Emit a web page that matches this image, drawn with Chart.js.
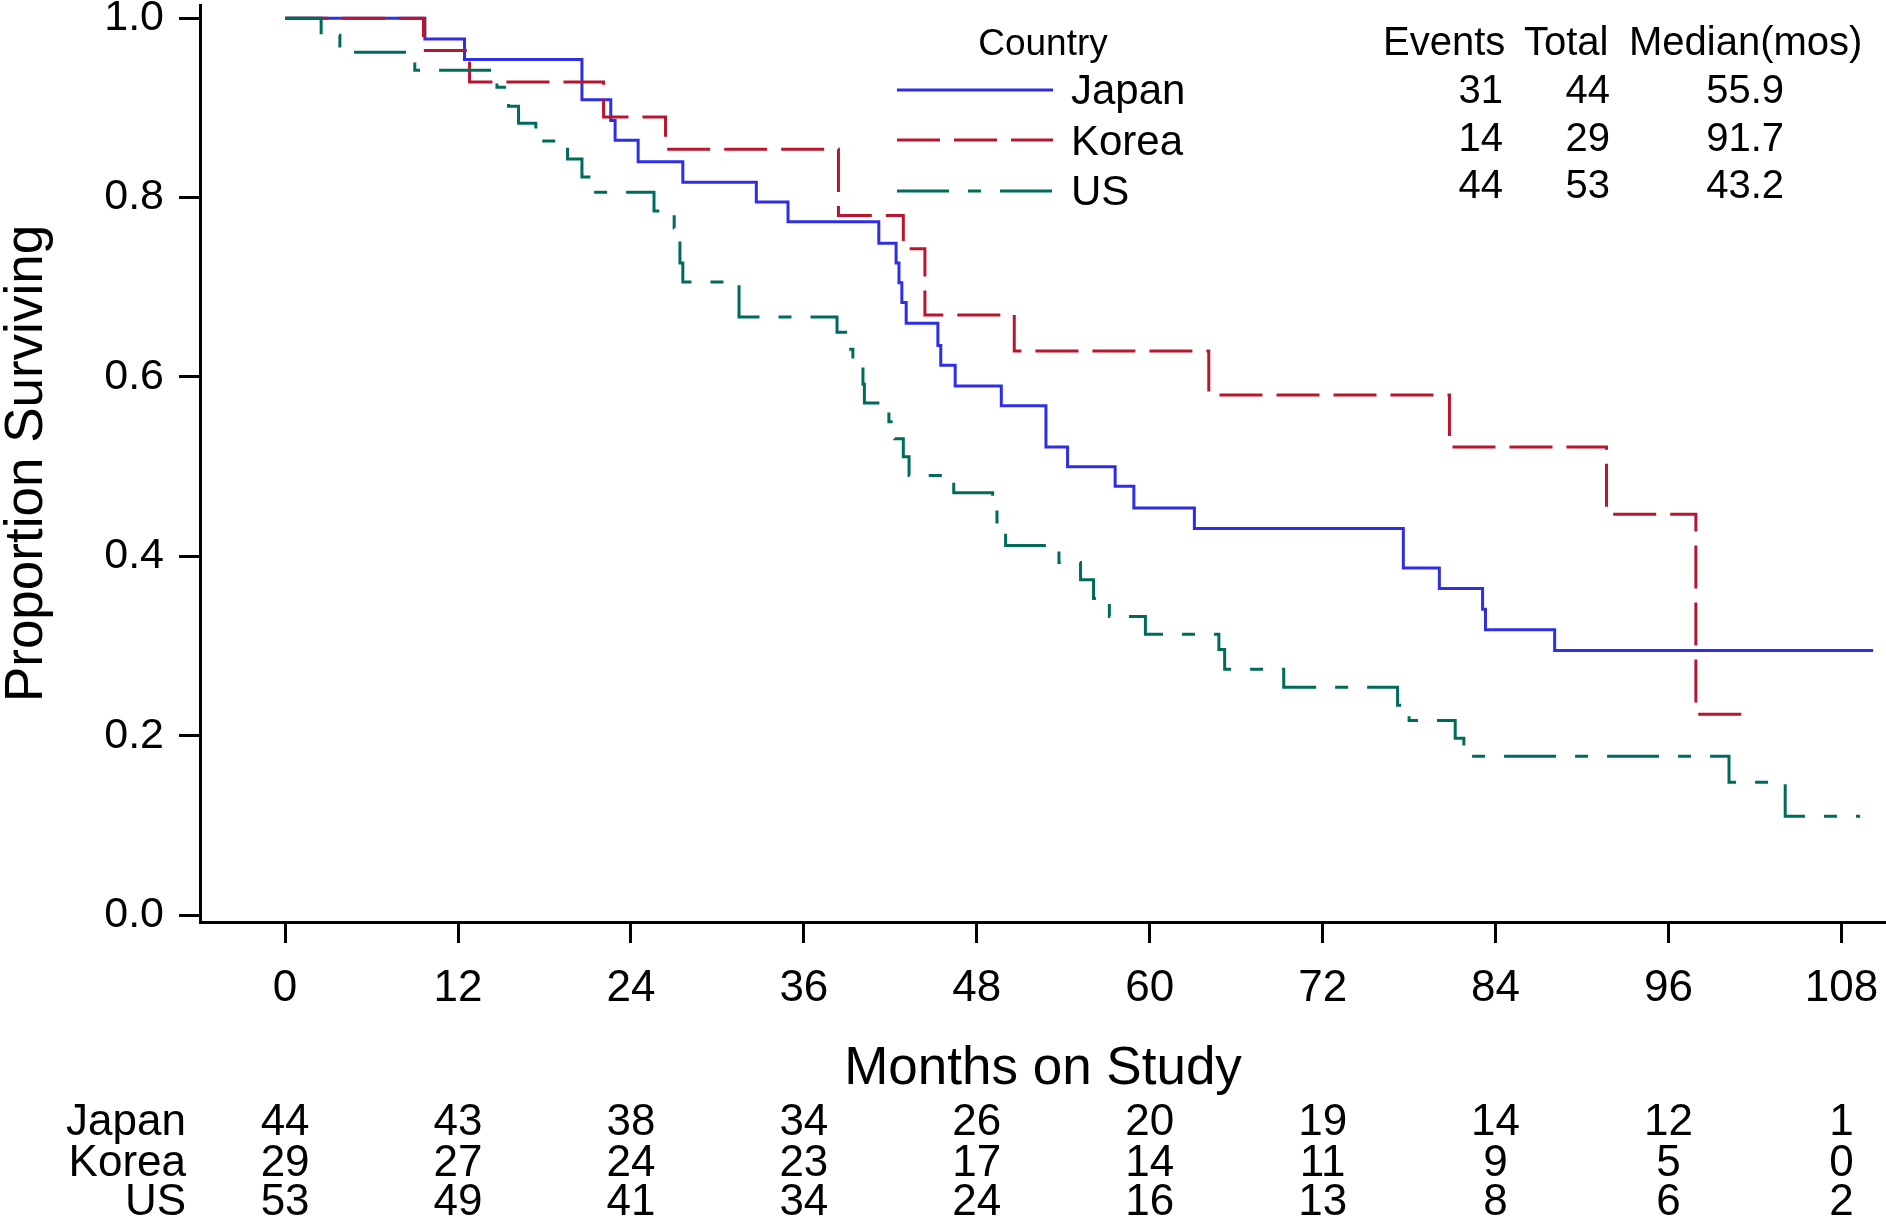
<!DOCTYPE html>
<html>
<head>
<meta charset="utf-8">
<title>Survival by country</title>
<script src="https://cdn.jsdelivr.net/npm/chart.js@4.4.1/dist/chart.umd.min.js"></script>
<style>
    html, body { margin: 0; padding: 0; background: #fff; }
    #km { display: block; }
</style>
</head>
<body>
<canvas id="km" width="1886" height="1217"></canvas>
<script>
// Kaplan-Meier steps: month of each drop and proportion surviving after it
const japanMonths = [0, 9.7, 12.45, 20.6, 22.6, 22.9, 24.5, 27.6, 32.7, 34.9, 41.2, 42.4, 42.6, 42.8, 43.1, 45.3, 45.5, 46.5, 49.7, 52.8, 54.3, 57.6, 58.9, 63.1, 77.6, 80.1, 83.1, 83.3, 88.1, 110.2];
const japanSurv = [1, 0.977, 0.954, 0.909, 0.886, 0.864, 0.840, 0.817, 0.795, 0.773, 0.749, 0.727, 0.705, 0.683, 0.660, 0.635, 0.613, 0.590, 0.568, 0.522, 0.500, 0.478, 0.454, 0.431, 0.387, 0.364, 0.341, 0.318, 0.295, 0.295];

const koreaMonths = [0, 9.6, 12.8, 22.1, 26.4, 38.4, 42.9, 44.4, 50.6, 64.1, 80.8, 91.7, 97.9, 101.6];
const koreaSurv = [1, 0.964, 0.929, 0.890, 0.854, 0.780, 0.743, 0.669, 0.629, 0.580, 0.522, 0.447, 0.224, 0.224];

const usMonths = [0, 2.5, 3.8, 9.0, 14.7, 15.5, 16.2, 17.4, 19.6, 20.6, 21.3, 25.6, 27.0, 27.4, 27.6, 31.5, 38.3, 38.9, 39.4, 40.1, 40.2, 41.9, 42.3, 42.9, 43.3, 46.4, 49.1, 49.4, 50.0, 53.7, 55.2, 56.1, 57.2, 59.7, 64.8, 65.2, 69.3, 77.2, 78.0, 81.2, 81.8, 100.2, 104.1, 109.3];
const usSurv = [1, 0.981, 0.962, 0.942, 0.923, 0.902, 0.883, 0.863, 0.843, 0.823, 0.806, 0.785, 0.766, 0.727, 0.706, 0.667, 0.650, 0.631, 0.612, 0.592, 0.571, 0.550, 0.531, 0.511, 0.490, 0.471, 0.452, 0.431, 0.412, 0.393, 0.374, 0.353, 0.333, 0.313, 0.296, 0.274, 0.254, 0.234, 0.217, 0.197, 0.177, 0.148, 0.110, 0.110];

// summary table
const countries = ['Japan', 'Korea', 'US'];
const eventCounts = [31, 14, 44];
const totalCounts = [44, 29, 53];
const medianMonths = ['55.9', '91.7', '43.2'];

// number at risk
const riskMonths = [0, 12, 24, 36, 48, 60, 72, 84, 96, 108];
const atRiskJapan = [44, 43, 38, 34, 26, 20, 19, 14, 12, 1];
const atRiskKorea = [29, 27, 24, 23, 17, 14, 11, 9, 5, 0];
const atRiskUS = [53, 49, 41, 34, 24, 16, 13, 8, 6, 2];

const yTicks = [0, 0.2, 0.4, 0.6, 0.8, 1.0];

const FONT = '"Liberation Sans", Arial, Helvetica, sans-serif';
const colors = { Japan: '#2e2ee3', Korea: '#b8162e', US: '#006b5c' };
const dashes = { Japan: [], Korea: [43, 14], US: [52, 19, 13, 19] };

function toPoints(months, surv) {
    return months.map((m, i) => ({ x: m, y: surv[i] }));
}

function kmDataset(label, months, surv, order) {
    return {
        label: label,
        data: toPoints(months, surv),
        borderColor: colors[label],
        borderWidth: 3,
        borderDash: dashes[label],
        borderCapStyle: 'butt',
        stepped: 'before',
        pointRadius: 0,
        fill: false,
        order: order
    };
}

// legend, summary table, axis titles and risk table
const extrasPlugin = {
    id: 'kmExtras',
    afterDraw(chart) {
        const ctx = chart.ctx;
        const area = chart.chartArea;
        const xScale = chart.scales.x;
        ctx.save();
        ctx.fillStyle = '#000';

        // y title
        ctx.save();
        ctx.translate(27, (area.top + area.bottom) / 2);
        ctx.rotate(-Math.PI / 2);
        ctx.font = '53px ' + FONT;
        ctx.textAlign = 'center';
        ctx.textBaseline = 'middle';
        ctx.fillText('Proportion Surviving', 0, 0);
        ctx.restore();

        // x title
        ctx.font = '53px ' + FONT;
        ctx.textAlign = 'center';
        ctx.textBaseline = 'alphabetic';
        ctx.fillText('Months on Study', (area.left + area.right) / 2, 1084);

        // legend
        ctx.font = '37px ' + FONT;
        ctx.fillText('Country', 1043, 55);
        const legendY = [90, 140, 191];
        const legendBase = [104, 155, 205];
        countries.forEach((c, i) => {
            ctx.save();
            ctx.strokeStyle = colors[c];
            ctx.lineWidth = 3;
            ctx.setLineDash(dashes[c]);
            ctx.beginPath();
            ctx.moveTo(897, legendY[i]);
            ctx.lineTo(1053, legendY[i]);
            ctx.stroke();
            ctx.restore();
            ctx.font = '42px ' + FONT;
            ctx.textAlign = 'left';
            ctx.fillText(c, 1071, legendBase[i]);
        });

        // summary table
        ctx.font = '40px ' + FONT;
        ctx.textAlign = 'left';
        ctx.fillText('Events', 1383, 55);
        ctx.fillText('Total', 1524, 55);
        ctx.fillText('Median(mos)', 1629, 55);
        const rowY = [103, 151, 198];
        countries.forEach((c, i) => {
            ctx.textAlign = 'right';
            ctx.fillText(String(eventCounts[i]), 1503, rowY[i]);
            ctx.fillText(String(totalCounts[i]), 1610, rowY[i]);
            ctx.fillText(medianMonths[i], 1784, rowY[i]);
        });

        // number at risk
        ctx.font = '44px ' + FONT;
        const riskRows = [atRiskJapan, atRiskKorea, atRiskUS];
        const riskY = [1135, 1176, 1215];
        riskRows.forEach((row, r) => {
            ctx.textAlign = 'right';
            ctx.fillText(countries[r], 186, riskY[r]);
            ctx.textAlign = 'center';
            row.forEach((n, i) => {
                ctx.fillText(String(n), xScale.getPixelForValue(riskMonths[i]), riskY[r]);
            });
        });
        ctx.restore();
    }
};

const axisGrid = {
    drawOnChartArea: false,
    drawTicks: true,
    tickLength: 21,
    tickWidth: 3,
    tickColor: '#000'
};

new Chart(document.getElementById('km').getContext('2d'), {
    type: 'line',
    data: {
        datasets: [
            kmDataset('Japan', japanMonths, japanSurv, 3),
            kmDataset('Korea', koreaMonths, koreaSurv, 2),
            kmDataset('US', usMonths, usSurv, 1)
        ]
    },
    options: {
        responsive: false,
        animation: false,
        layout: { padding: { left: 0, right: 0, top: 5, bottom: 195 } },
        plugins: {
            legend: { display: false },
            tooltip: { enabled: false }
        },
        scales: {
            x: {
                type: 'linear',
                min: -5.906,
                max: 111.095,
                afterBuildTicks: scale => { scale.ticks = riskMonths.map(v => ({ value: v })); },
                afterFit: scale => {
                    scale.height = 100;
                    scale.paddingLeft = 0;
                    scale.paddingRight = 0;
                },
                ticks: {
                    autoSkip: false,
                    maxRotation: 0,
                    padding: 19,
                    color: '#000',
                    font: { family: FONT, size: 44 }
                },
                grid: axisGrid,
                border: { display: true, color: '#000', width: 3 }
            },
            y: {
                type: 'linear',
                min: -0.0078,
                max: 1.0148,
                afterBuildTicks: scale => { scale.ticks = yTicks.map(v => ({ value: v })); },
                afterFit: scale => {
                    scale.width = 200;
                    scale.paddingTop = 0;
                    scale.paddingBottom = 0;
                },
                ticks: {
                    padding: 15,
                    color: '#000',
                    font: { family: FONT, size: 43 },
                    callback: v => v.toFixed(1)
                },
                grid: axisGrid,
                border: { display: true, color: '#000', width: 3 }
            }
        }
    },
    plugins: [extrasPlugin]
});
</script>
</body>
</html>
